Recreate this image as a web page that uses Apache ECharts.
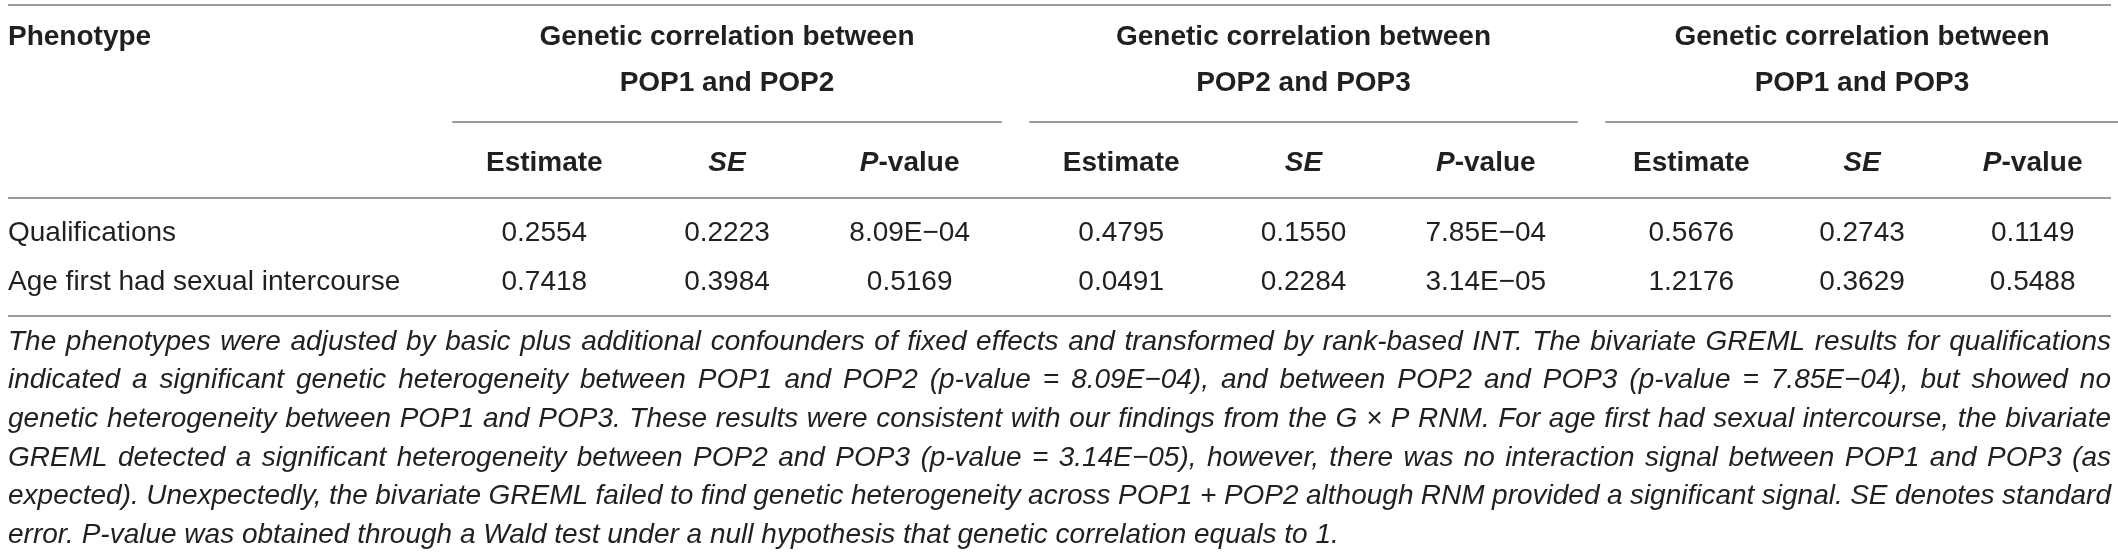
<!DOCTYPE html>
<html>
<head>
<meta charset="utf-8">
<script src="https://cdn.jsdelivr.net/npm/echarts@6/dist/echarts.min.js"></script>
<style>
html, body { margin: 0; padding: 0; background: #fff; }
#main { width: 2118px; height: 552px; }
</style>
</head>
<body>
<div id="main"></div>
<script>
// table content
var phenotypes = ['Qualifications', 'Age first had sexual intercourse'];
var columns = ['Estimate', 'SE', 'P-value'];
var groupTitles = [
	'Genetic correlation between\nPOP1 and POP2',
	'Genetic correlation between\nPOP2 and POP3',
	'Genetic correlation between\nPOP1 and POP3'
];
var pop12Estimate = ['0.2554', '0.7418'];
var pop12SE = ['0.2223', '0.3984'];
var pop12P = ['8.09E\u221204', '0.5169'];
var pop23Estimate = ['0.4795', '0.0491'];
var pop23SE = ['0.1550', '0.2284'];
var pop23P = ['7.85E\u221204', '3.14E\u221205'];
var pop13Estimate = ['0.5676', '1.2176'];
var pop13SE = ['0.2743', '0.3629'];
var pop13P = ['0.1149', '0.5488'];
var footnoteLines = [
	'The phenotypes were adjusted by basic plus additional confounders of fixed effects and transformed by rank-based INT. The bivariate GREML results for qualifications',
	'indicated a significant genetic heterogeneity between POP1 and POP2 (p-value = 8.09E\u221204), and between POP2 and POP3 (p-value = 7.85E\u221204), but showed no',
	'genetic heterogeneity between POP1 and POP3. These results were consistent with our findings from the G \u00d7 P RNM. For age first had sexual intercourse, the bivariate',
	'GREML detected a significant heterogeneity between POP2 and POP3 (p-value = 3.14E\u221205), however, there was no interaction signal between POP1 and POP3 (as',
	'expected). Unexpectedly, the bivariate GREML failed to find genetic heterogeneity across POP1 + POP2 although RNM provided a significant signal. SE denotes standard',
	'error. P-value was obtained through a Wald test under a null hypothesis that genetic correlation equals to 1.'
];

// layout
var FONT = '"Liberation Sans", Arial, sans-serif';
var INK = '#231f20';
var RULE = '#9b9b9b';
var LEFT = 8, RIGHT = 2111;
var groupBox = [[453, 1001], [1030, 1577], [1606, 2146]];
var UNDERLINE_Y = 122, ROW_TOP = 209, ROW_H = 98;
var RULES_Y = [5, 198, 316];
var FN_TOP = 342, FN_STEP = 38.6, FN_SIZE = 28;

var chart = echarts.init(document.getElementById('main'));

function subheadFmt(v) {
	if (v == 'SE') return '{i|SE}';
	if (v == 'P-value') return '{i|P}{b|-value}';
	return '{b|' + v + '}';
}

// one custom series per column group, cells placed by the category axes
function cellSeries(i, est, se, p) {
	var cells = [];
	phenotypes.forEach(function(name, r) {
		cells.push([0, r, est[r]], [1, r, se[r]], [2, r, p[r]]);
	});
	return {
		type: 'custom',
		xAxisIndex: i,
		yAxisIndex: i,
		encode: { x: 0, y: 1 },
		data: cells.map(function(c) { return [c[0], c[1]]; }),
		renderItem: function(params, api) {
			var pt = api.coord([api.value(0), api.value(1)]);
			return {
				type: 'text',
				x: pt[0],
				y: pt[1],
				style: {
					text: cells[params.dataIndex][2],
					fontFamily: FONT,
					fontSize: 28,
					fill: INK,
					align: 'center',
					verticalAlign: 'middle'
				}
			};
		}
	};
}

var grids = [], xAxes = [], yAxes = [];
groupBox.forEach(function(box, i) {
	grids.push({ left: box[0], width: box[1] - box[0], top: ROW_TOP, height: ROW_H });
	xAxes.push({
		type: 'category',
		gridIndex: i,
		data: columns,
		position: 'top',
		offset: ROW_TOP - UNDERLINE_Y,
		axisLine: { show: true, lineStyle: { color: RULE, width: 2 } },
		axisTick: { show: false },
		splitLine: { show: false },
		axisLabel: {
			inside: true,
			margin: 27,
			formatter: subheadFmt,
			rich: {
				b: { fontFamily: FONT, fontSize: 28, fontWeight: 'bold', color: INK },
				i: { fontFamily: FONT, fontSize: 28, fontWeight: 'bold', fontStyle: 'italic', color: INK }
			}
		},
		name: groupTitles[i],
		nameLocation: 'middle',
		nameGap: 16,
		nameTextStyle: { fontFamily: FONT, fontSize: 28, fontWeight: 'bold', color: INK, lineHeight: 46 }
	});
	yAxes.push({
		type: 'category',
		gridIndex: i,
		data: phenotypes,
		inverse: true,
		axisLine: { show: false },
		axisTick: { show: false },
		splitLine: { show: false },
		axisLabel: {
			show: i == 0,
			align: 'left',
			margin: box[0] - LEFT,
			fontFamily: FONT,
			fontSize: 28,
			color: INK
		}
	});
});

// rules + header
var graphics = [];
RULES_Y.forEach(function(y) {
	graphics.push({ type: 'line', shape: { x1: LEFT, y1: y, x2: RIGHT, y2: y }, style: { stroke: RULE, lineWidth: 2 } });
});
graphics.push({
	type: 'text', x: LEFT, y: 37,
	style: { text: 'Phenotype', fontFamily: FONT, fontSize: 28, fontWeight: 'bold', fill: INK, verticalAlign: 'middle' }
});

// footnote, justified word by word (last line left as is)
var ctx = document.createElement('canvas').getContext('2d');
ctx.font = 'italic ' + FN_SIZE + 'px ' + FONT;
footnoteLines.forEach(function(line, li) {
	var words = line.split(' ');
	var widths = words.map(function(w) { return ctx.measureText(w).width; });
	var total = widths.reduce(function(a, b) { return a + b; }, 0);
	var gap = ctx.measureText(' ').width;
	if (li < footnoteLines.length - 1) gap = (RIGHT - LEFT - total) / (words.length - 1);
	var x = LEFT;
	words.forEach(function(w, wi) {
		graphics.push({
			type: 'text', x: x, y: FN_TOP + li * FN_STEP,
			style: { text: w, fontFamily: FONT, fontSize: FN_SIZE, fontStyle: 'italic', fill: INK, verticalAlign: 'middle' }
		});
		x += widths[wi] + gap;
	});
});

chart.setOption({
	animation: false,
	grid: grids,
	xAxis: xAxes,
	yAxis: yAxes,
	graphic: graphics,
	series: [
		cellSeries(0, pop12Estimate, pop12SE, pop12P),
		cellSeries(1, pop23Estimate, pop23SE, pop23P),
		cellSeries(2, pop13Estimate, pop13SE, pop13P)
	]
});
</script>
</body>
</html>
